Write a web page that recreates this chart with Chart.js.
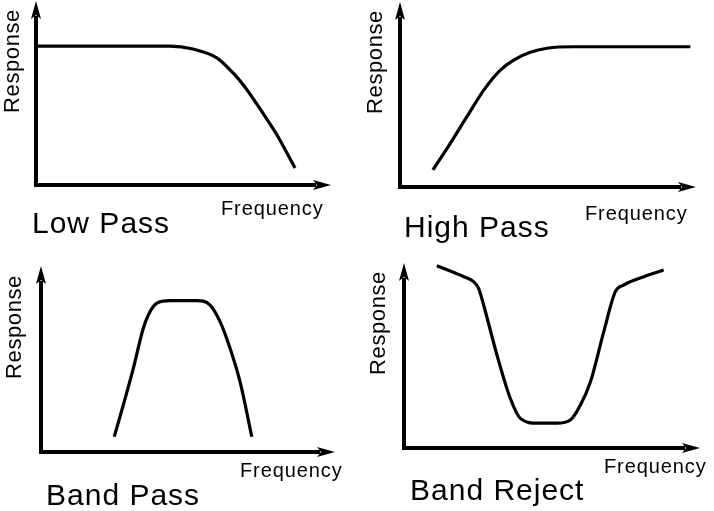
<!DOCTYPE html>
<html>
<head>
<meta charset="utf-8">
<title>Filter responses</title>
<script src="https://cdn.jsdelivr.net/npm/chart.js@4.4.1/dist/chart.umd.min.js"></script>
<style>
    body { margin: 0; background: #ffffff; }
    #wrap { position: relative; width: 714px; height: 511px; overflow: hidden; background: #ffffff; }
    canvas { position: absolute; }
    .txt { position: absolute; font-family: "Liberation Sans", Arial, sans-serif; color: #000; white-space: nowrap; line-height: 1; }
    .title { font-size: 30px; letter-spacing: 1px; }
    .freq { font-size: 20px; letter-spacing: 0.9px; }
    .resp { font-size: 22px; letter-spacing: 0.6px; transform: translate(-50%, -50%) rotate(-90deg); }
</style>
</head>
<body>
<div id="wrap">
    <canvas id="lowPass" width="357" height="255" style="left:0px; top:0px;"></canvas>
    <canvas id="highPass" width="357" height="255" style="left:357px; top:0px;"></canvas>
    <canvas id="bandPass" width="357" height="256" style="left:0px; top:255px;"></canvas>
    <canvas id="bandReject" width="357" height="256" style="left:357px; top:255px;"></canvas>

    <div class="txt resp" style="left:12px; top:61px;">Response</div>
    <div class="txt freq" style="left:221px; top:198px;">Frequency</div>
    <div class="txt title" style="left:32px; top:208px;">Low Pass</div>

    <div class="txt resp" style="left:375px; top:62px;">Response</div>
    <div class="txt freq" style="left:585px; top:203px;">Frequency</div>
    <div class="txt title" style="left:404px; top:212px;">High Pass</div>

    <div class="txt resp" style="left:14px; top:327px;">Response</div>
    <div class="txt freq" style="left:240px; top:460px;">Frequency</div>
    <div class="txt title" style="left:46px; top:480px;">Band Pass</div>

    <div class="txt resp" style="left:378px; top:323px;">Response</div>
    <div class="txt freq" style="left:604px; top:456px;">Frequency</div>
    <div class="txt title" style="left:410px; top:475px;">Band Reject</div>
</div>

<script>
// Values in relative units: 0 = axis origin, 100 = arrow tip
const lowPassFreq = [0, 45.4, 53.2, 61.4, 66.8, 70.8, 76.9, 81.7, 87.8];
const lowPassResp = [75.5, 75.5, 73.9, 69.0, 60.9, 53.3, 39.1, 27.2, 9.2];

const highPassFreq = [11.1, 17.0, 22.6, 28.3, 33.9, 38.4, 44.0, 49.7, 58.7, 98.1];
const highPassResp = [9.2, 23.6, 38.0, 52.4, 63.2, 68.6, 72.8, 75.0, 75.8, 75.8];

const bandPassFreq = [24.9, 28.0, 31.4, 34.8, 36.5, 39.4, 43.9, 52.9, 57.5, 60.9, 64.3, 67.7, 71.7];
const bandPassResp = [8.2, 25.3, 45.0, 66.5, 73.7, 80.0, 81.4, 81.4, 79.0, 70.1, 55.8, 37.8, 8.2];

const bandRejectFreq = [11.1, 20.2, 23.5, 25.2, 26.9, 31.4, 35.9, 39.3, 45.0, 51.7, 56.2, 59.6, 63.0, 67.5, 71.4, 74.2, 81.0, 87.7];
const bandRejectResp = [98.5, 92.6, 89.9, 86.3, 77.3, 50.3, 26.9, 16.0, 13.4, 13.4, 15.1, 23.2, 35.8, 62.9, 84.5, 88.1, 92.6, 96.2];

// Draws the two axis lines with arrow heads along the chart area edges
const arrowAxes = {
    id: "arrowAxes",
    beforeDatasetsDraw(chart) {
        const { ctx, chartArea } = chart;
        const { left, top, right, bottom } = chartArea;
        const lw = 4;
        const headLen = 18;
        const headHalf = 5;
        ctx.save();
        ctx.strokeStyle = "#000";
        ctx.fillStyle = "#000";
        ctx.lineWidth = lw;

        // y axis shaft + x axis shaft
        ctx.beginPath();
        ctx.moveTo(left, top + headLen - 3);
        ctx.lineTo(left, bottom + lw / 2);
        ctx.moveTo(left - lw / 2, bottom);
        ctx.lineTo(right - headLen + 3, bottom);
        ctx.stroke();

        // up arrow
        ctx.beginPath();
        ctx.moveTo(left, top);
        ctx.lineTo(left + headHalf, top + headLen);
        ctx.lineTo(left, top + headLen - 4);
        ctx.lineTo(left - headHalf, top + headLen);
        ctx.closePath();
        ctx.fill();

        // right arrow
        ctx.beginPath();
        ctx.moveTo(right, bottom);
        ctx.lineTo(right - headLen, bottom - headHalf);
        ctx.lineTo(right - headLen + 4, bottom);
        ctx.lineTo(right - headLen, bottom + headHalf);
        ctx.closePath();
        ctx.fill();
        ctx.restore();
    }
};

// Builds one filter chart; padding places the axes inside the canvas
function makeChart(canvasId, freq, resp, padding) {
    const points = freq.map((f, i) => ({ x: f, y: resp[i] }));
    const ctx = document.getElementById(canvasId).getContext("2d");
    return new Chart(ctx, {
        type: "line",
        data: {
            datasets: [{
                data: points,
                borderColor: "#000000",
                borderWidth: 3.2,
                pointRadius: 0,
                fill: false,
                cubicInterpolationMode: "monotone",
                clip: false
            }]
        },
        options: {
            responsive: false,
            animation: false,
            layout: { padding: padding },
            plugins: {
                legend: { display: false },
                tooltip: { enabled: false }
            },
            scales: {
                x: { type: "linear", min: 0, max: 100, display: false },
                y: { min: 0, max: 100, display: false }
            }
        },
        plugins: [arrowAxes]
    });
}

makeChart("lowPass", lowPassFreq, lowPassResp, { left: 36, top: 1, right: 26, bottom: 70 });
makeChart("highPass", highPassFreq, highPassResp, { left: 43, top: 2, right: 18, bottom: 68 });
makeChart("bandPass", bandPassFreq, bandPassResp, { left: 41, top: 11, right: 22, bottom: 59 });
makeChart("bandReject", bandRejectFreq, bandRejectResp, { left: 47, top: 8, right: 14, bottom: 63 });
</script>
</body>
</html>
